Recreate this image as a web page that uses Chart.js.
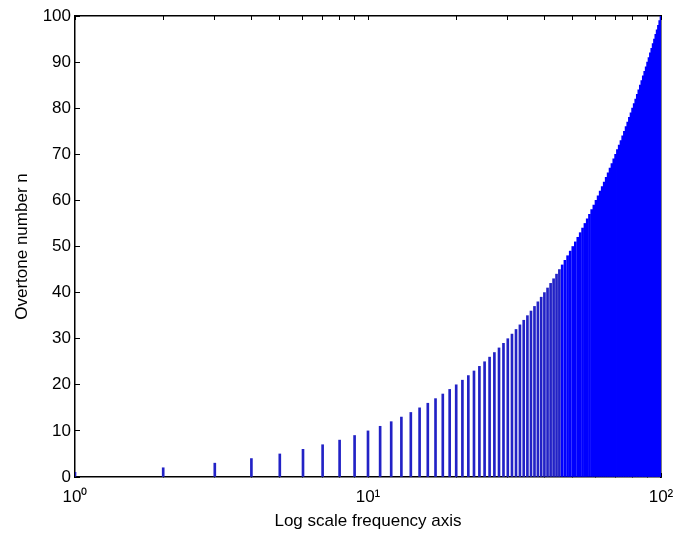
<!DOCTYPE html>
<html>
<head>
<meta charset="utf-8">
<script src="https://cdn.jsdelivr.net/npm/chart.js@4.4.0/dist/chart.umd.min.js"></script>
<style>
  html, body { margin: 0; padding: 0; background: #ffffff; }
  #c { display: block; }
</style>
</head>
<body>
<canvas id="c" width="673" height="536"></canvas>
<script>
// Overtone frequencies (multiples of the fundamental) and their overtone number
const frequencies = [1,2,3,4,5,6,7,8,9,10,11,12,13,14,15,16,17,18,19,20,
  21,22,23,24,25,26,27,28,29,30,31,32,33,34,35,36,37,38,39,40,
  41,42,43,44,45,46,47,48,49,50,51,52,53,54,55,56,57,58,59,60,
  61,62,63,64,65,66,67,68,69,70,71,72,73,74,75,76,77,78,79,80,
  81,82,83,84,85,86,87,88,89,90,91,92,93,94,95,96,97,98,99,100];
const overtoneNumbers = [1,2,3,4,5,6,7,8,9,10,11,12,13,14,15,16,17,18,19,20,
  21,22,23,24,25,26,27,28,29,30,31,32,33,34,35,36,37,38,39,40,
  41,42,43,44,45,46,47,48,49,50,51,52,53,54,55,56,57,58,59,60,
  61,62,63,64,65,66,67,68,69,70,71,72,73,74,75,76,77,78,79,80,
  81,82,83,84,85,86,87,88,89,90,91,92,93,94,95,96,97,98,99,100];
const xTickValues = [1,2,3,4,5,6,7,8,9,10,20,30,40,50,60,70,80,90,100];
const xTickLabels = { 1: '10\u2070', 10: '10\u00B9', 100: '10\u00B2' };
const yTickValues = [0,10,20,30,40,50,60,70,80,90,100];
const xTitle = 'Log scale frequency axis';
const yTitle = 'Overtone number n';

const points = frequencies.map((f, i) => ({ x: f, y: overtoneNumbers[i] }));
const FONT = 'Liberation Sans, Arial, Helvetica, sans-serif';
const logTicks = (s) => { s.ticks = xTickValues.map(v => ({ value: v, major: v === 1 || v === 10 || v === 100 })); };

new Chart(document.getElementById('c'), {
  type: 'bar',
  data: {
    datasets: [{
      data: points,
      backgroundColor: (ctx) => (ctx.raw && ctx.raw.x <= 45 ? '#2222c6' : '#0000ff'),
      borderWidth: 0,
      barThickness: 2,
      xAxisID: 'x',
      yAxisID: 'y'
    }]
  },
  options: {
    responsive: false,
    animation: false,
    devicePixelRatio: 1,
    layout: { padding: { top: 16, right: 12, left: 0, bottom: 0 } },
    plugins: { legend: { display: false }, tooltip: { enabled: false } },
    scales: {
      x: {
        type: 'logarithmic',
        position: 'bottom',
        min: 1, max: 100,
        offset: false,
        afterBuildTicks: logTicks,
        grid: { offset: false, drawOnChartArea: false, drawTicks: true, tickLength: -4, color: '#000', lineWidth: 1 },
        border: { display: true, color: '#000', width: 1.5 },
        ticks: {
          autoSkip: false, maxRotation: 0, padding: 14, color: '#000',
          font: { family: FONT, size: 17 },
          callback: (v) => xTickLabels[v] || ''
        },
        title: { display: true, text: xTitle, color: '#000', font: { family: FONT, size: 17 }, padding: { top: 0, bottom: 4 } },
        afterFit: (s) => { s.height = 59; s.paddingLeft = 0; s.paddingRight = 0; }
      },
      x2: {
        type: 'logarithmic',
        position: 'top',
        min: 1, max: 100,
        offset: false,
        z: 1,
        afterBuildTicks: logTicks,
        grid: { offset: false, drawOnChartArea: false, drawTicks: true, tickLength: -4, color: '#000', lineWidth: 1 },
        border: { display: true, color: '#000', width: 1.5 },
        ticks: { autoSkip: false, color: 'rgba(0,0,0,0)', callback: () => '' },
        afterFit: (s) => { s.height = 0; s.paddingLeft = 0; s.paddingRight = 0; }
      },
      y: {
        type: 'linear',
        position: 'left',
        min: 0, max: 100,
        z: 1,
        afterBuildTicks: (s) => { s.ticks = yTickValues.map(v => ({ value: v })); },
        grid: { drawOnChartArea: false, drawTicks: true, tickLength: -5, color: '#000', lineWidth: 1 },
        border: { display: true, color: '#000', width: 1.5 },
        ticks: { padding: 9, color: '#000', font: { family: FONT, size: 17 } },
        title: { display: true, text: yTitle, color: '#000', font: { family: FONT, size: 17 }, padding: { top: 12, bottom: 0 } },
        afterFit: (s) => { s.width = 75; s.paddingTop = 0; s.paddingBottom = 0; }
      },
      y2: {
        type: 'linear',
        position: 'right',
        min: 0, max: 100,
        z: 1,
        grid: { drawOnChartArea: false, drawTicks: false },
        border: { display: true, color: '#000', width: 1.5 },
        ticks: { display: false },
        afterFit: (s) => { s.width = 0; s.paddingTop = 0; s.paddingBottom = 0; }
      }
    }
  }
});
</script>
</body>
</html>
